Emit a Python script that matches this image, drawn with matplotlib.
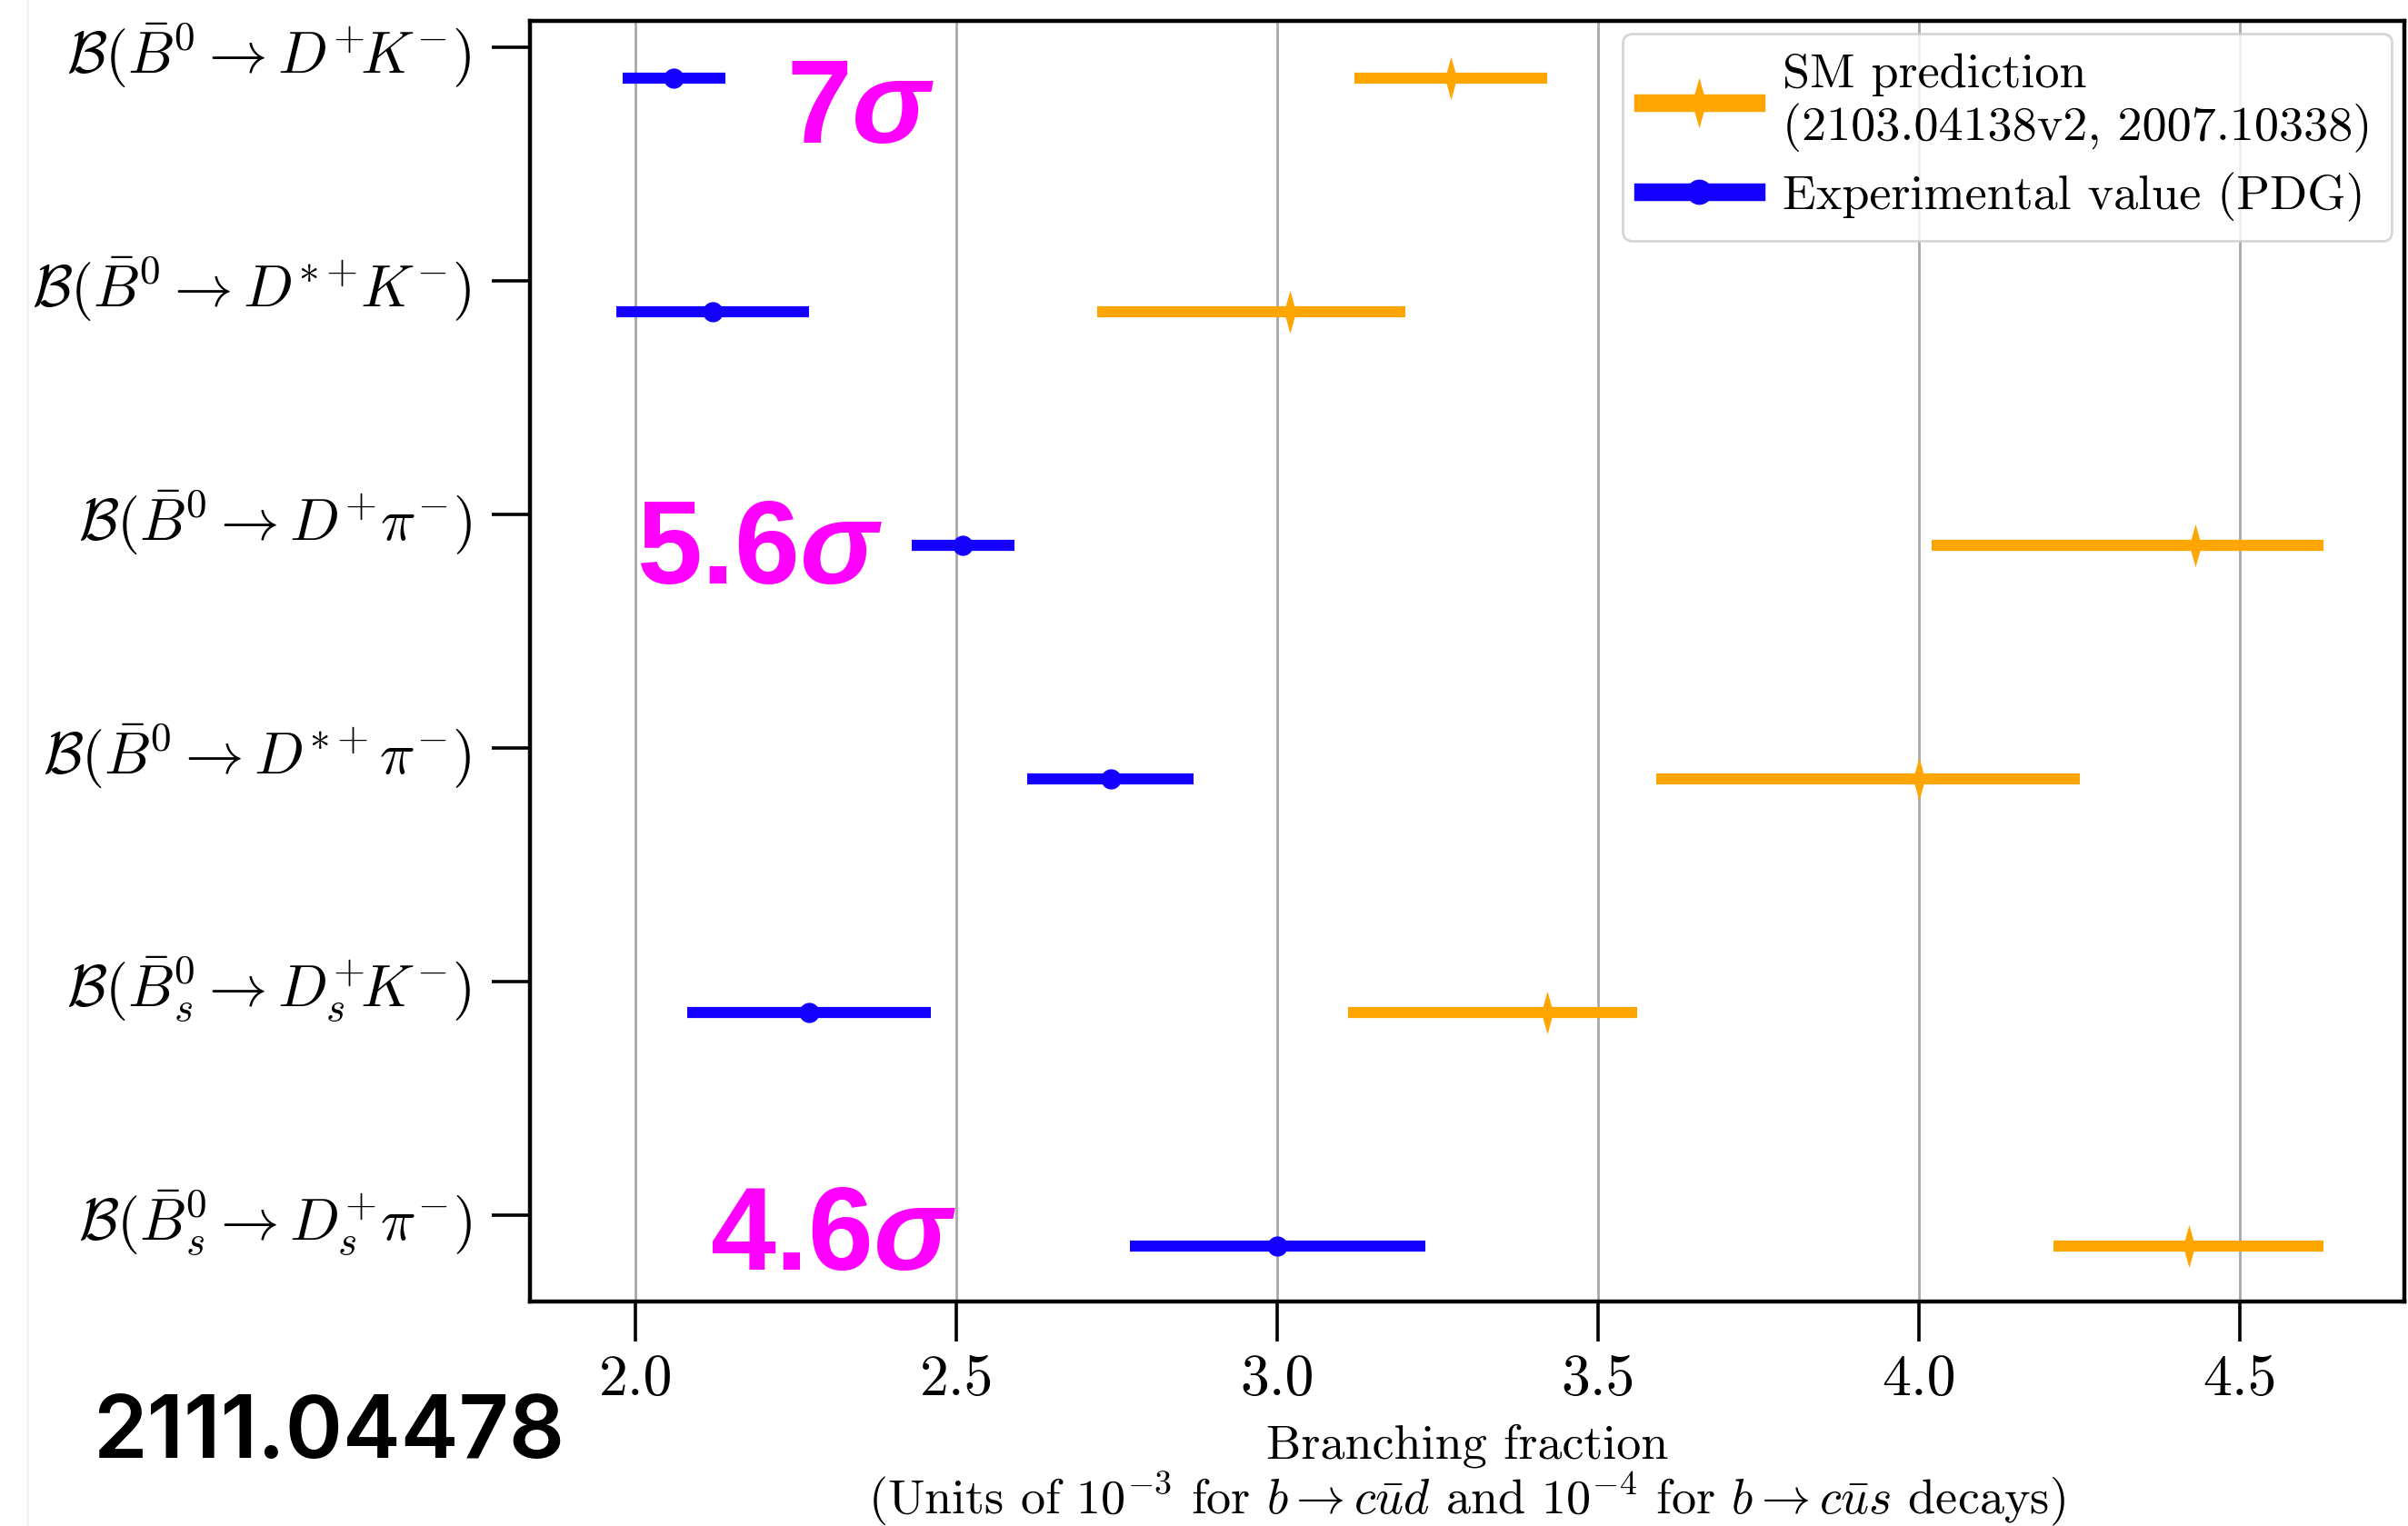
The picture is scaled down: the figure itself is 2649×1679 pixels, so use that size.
import numpy as np
import matplotlib
matplotlib.use("Agg")
import matplotlib.pyplot as plt
from matplotlib.lines import Line2D

plt.rcParams['font.family'] = 'serif'
plt.rcParams['font.serif'] = ['cmr10']
plt.rcParams['mathtext.fontset'] = 'cm'
plt.rcParams['axes.formatter.use_mathtext'] = True
plt.rcParams['mathtext.it'] = 'Liberation Sans:italic:bold'
plt.rcParams['mathtext.rm'] = 'Liberation Sans:bold'

# ---------------- data ----------------
categories = [
    r'$\mathcal{B}(\bar{B}^0 \to D^{+}\!K^{-})$',
    r'$\mathcal{B}(\bar{B}^0 \to D^{*+}\!K^{-})$',
    r'$\mathcal{B}(\bar{B}^0 \to D^{+}\pi^{-})$',
    r'$\mathcal{B}(\bar{B}^0 \to D^{*+}\pi^{-})$',
    r'$\mathcal{B}(\bar{B}_s^0 \to D_s^{+}\!K^{-})$',
    r'$\mathcal{B}(\bar{B}_s^0 \to D_s^{+}\pi^{-})$',
]
exp_val = [2.06, 2.12, 2.51, 2.74, 2.27, 3.00]
exp_err = [0.08, 0.15, 0.08, 0.13, 0.19, 0.23]
sm_val = [3.27, 3.02, 4.43, 4.00, 3.42, 4.42]
sm_err_lo = [0.15, 0.30, 0.41, 0.41, 0.31, 0.21]
sm_err_hi = [0.15, 0.18, 0.20, 0.25, 0.14, 0.21]
sig_labels = ['7', '5.6', '4.6']
xticks = [2.0, 2.5, 3.0, 3.5, 4.0, 4.5]

# ---------------- figure ----------------
W, H, DPI = 2649, 1679, 200
fig = plt.figure(figsize=(W / DPI, H / DPI), dpi=DPI)
ax = fig.add_axes([582.6 / W, 1 - 1432 / H, (2645 - 582.6) / W, (1432 - 23) / H])

n = len(categories)
ypos = np.arange(n)[::-1].astype(float)
yoff = 0.132

orange_marker = [(0, 1), (0.28, 0), (0, -1), (-0.28, 0), (0, 1)]

ax.errorbar(sm_val, ypos - yoff, xerr=[sm_err_lo, sm_err_hi], fmt='none',
            ecolor='#FFA500', elinewidth=4.4, capsize=0, zorder=3)
ax.plot(sm_val, ypos - yoff, linestyle='none', marker=orange_marker,
        markersize=17, color='#FFA500', markeredgewidth=0, zorder=4)
ax.errorbar(exp_val, ypos - yoff, xerr=exp_err, fmt='none',
            ecolor='#1400FF', elinewidth=4.4, capsize=0, zorder=3)
ax.plot(exp_val, ypos - yoff, linestyle='none', marker='o', markersize=8,
        color='#1400FF', markeredgewidth=0, zorder=4)

# legend proxies
h_sm = (Line2D([], [], color='#FFA500', lw=7),
        Line2D([], [], linestyle='none', marker=orange_marker, markersize=20,
               color='#FFA500', markeredgewidth=0))
h_exp = (Line2D([], [], color='#1400FF', lw=7),
         Line2D([], [], linestyle='none', marker='o', markersize=10,
                color='#1400FF', markeredgewidth=0))
leg = ax.legend([h_sm, h_exp],
                ['SM prediction\n(2103.04138v2, 2007.10338)',
                 'Experimental value (PDG)'],
                loc='upper right', fontsize=19.5, handlelength=2.3,
                handletextpad=0.55, borderaxespad=0.25, labelspacing=0.4,
                borderpad=0.4, framealpha=0.8)

ax.set_xlim(1.835, 4.756)
ax.set_ylim(-0.37, 5.113)
ax.set_xticks(xticks)
ax.set_xticklabels([f'{v:.1f}' for v in xticks])
ax.set_yticks(ypos)
ax.set_yticklabels(categories)
ax.grid(axis='x', color='#a8a8a8', linewidth=1.0)
ax.set_axisbelow(True)

for s in ax.spines.values():
    s.set_linewidth(1.6)
    s.set_color('black')
ax.tick_params(axis='x', labelsize=23, length=16, width=1.3, pad=5)
ax.tick_params(axis='y', labelsize=23.2, length=15, width=1.3, pad=8)

ax.set_xlabel('Branching fraction\n(Units of $10^{-3}$ for $b\\rightarrow c\\bar{u}d$ '
              'and $10^{-4}$ for $b\\rightarrow c\\bar{u}s$ decays)',
              fontsize=19.5, labelpad=6.5, linespacing=1.05)

# significance annotations
sig_pos = [(2.235, 4.591), (2.001, 2.704), (2.116, -0.233)]
for lab, (xx, yy) in zip(sig_labels, sig_pos):
    ax.text(xx, yy, lab + r'$\sigma$', color='#FF00FF', fontsize=46.5,
            fontfamily='Liberation Sans', fontweight='bold',
            math_fontfamily='custom', ha='left', va='baseline', zorder=5)

fig.text(102 / W, 1 - 1604 / H, '2111.04478', fontsize=34.5,
         fontfamily='Inter', fontweight='semibold', color='black',
         ha='left', va='baseline')

fig.add_artist(Line2D([30 / W, 30 / W], [0, 1], transform=fig.transFigure,
                      color='#f2f2f2', lw=1.0))

fig.savefig('out.png', dpi=DPI)
